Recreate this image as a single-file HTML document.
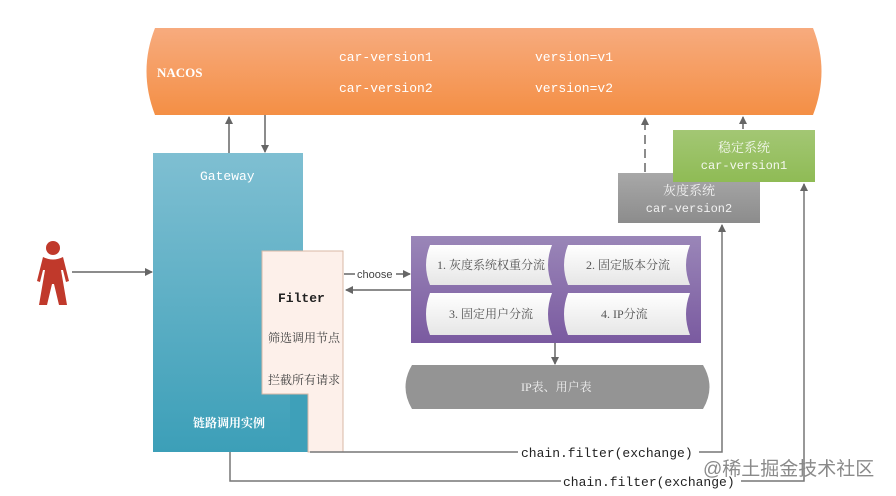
<!DOCTYPE html>
<html><head><meta charset="utf-8"><style>
html,body{margin:0;padding:0;background:#fff;}
svg{display:block;}
text{font-family:"Liberation Serif","Noto Serif CJK SC","Noto Sans CJK SC",serif;}
</style></head><body>
<svg width="896" height="496" viewBox="0 0 896 496" xmlns="http://www.w3.org/2000/svg">
<defs>
<linearGradient id="og" x1="0" y1="0" x2="0" y2="1"><stop offset="0" stop-color="#f7ab7e"/><stop offset="1" stop-color="#f48f45"/></linearGradient>
<linearGradient id="tg" x1="0" y1="0" x2="0" y2="1"><stop offset="0" stop-color="#7fbfd2"/><stop offset="1" stop-color="#3c9fb8"/></linearGradient>
<linearGradient id="pg" x1="0" y1="0" x2="0" y2="1"><stop offset="0" stop-color="#9a86b8"/><stop offset="1" stop-color="#7a5aa0"/></linearGradient>
<linearGradient id="cg" x1="0" y1="0" x2="0" y2="1"><stop offset="0" stop-color="#ffffff"/><stop offset="1" stop-color="#e6e6e6"/></linearGradient>
<linearGradient id="gg" x1="0" y1="0" x2="0" y2="1"><stop offset="0" stop-color="#a3c774"/><stop offset="1" stop-color="#8fbb55"/></linearGradient>
<linearGradient id="gr" x1="0" y1="0" x2="0" y2="1"><stop offset="0" stop-color="#a8a8a8"/><stop offset="1" stop-color="#8c8c8c"/></linearGradient>
<marker id="a" markerWidth="8" markerHeight="8" refX="7" refY="4" orient="auto" markerUnits="userSpaceOnUse"><path d="M0,0 L8,4 L0,8 z" fill="#666"/></marker>
</defs>

<path d="M155,28 L813,28 Q830,71 813,115 L155,115 Q138,71 155,28 z" fill="url(#og)"/>
<text x="157" y="77" font-size="13" font-weight="bold" fill="#fff">NACOS</text>
<g font-size="13" fill="#fff">
<text x="339" y="61" style="font-family:'Liberation Mono',monospace">car-version1</text>
<text x="535" y="61" style="font-family:'Liberation Mono',monospace">version=v1</text>
<text x="339" y="92" style="font-family:'Liberation Mono',monospace">car-version2</text>
<text x="535" y="92" style="font-family:'Liberation Mono',monospace">version=v2</text>
</g>

<line x1="229" y1="153" x2="229" y2="117" stroke="#666" stroke-width="1.5" marker-end="url(#a)"/>
<line x1="265" y1="115" x2="265" y2="152" stroke="#666" stroke-width="1.5" marker-end="url(#a)"/>

<rect x="153" y="153" width="150" height="299" fill="url(#tg)"/>
<rect x="290" y="390" width="18" height="62" fill="#3ea0b9"/>
<text x="200" y="180" font-size="13" fill="#fff" style="font-family:'Liberation Mono',monospace">Gateway</text>
<text x="193" y="427" font-size="12" fill="#fff" font-weight="bold">链路调用实例</text>

<path d="M262,251 L343,251 L343,452 L308,452 L308,394 L262,394 z" fill="#fdf0ea" stroke="#d9b9a6" stroke-width="1"/>
<text x="278" y="302" font-size="13" fill="#222" font-weight="bold" style="font-family:'Liberation Mono',monospace">Filter</text>
<text x="268" y="342" font-size="12" fill="#444">筛选调用节点</text>
<text x="268" y="384" font-size="12" fill="#444">拦截所有请求</text>

<g fill="#c0392b">
<circle cx="53" cy="248" r="7"/>
<path d="M43,257 Q53,262 63,257 L69,281 L66,282 L63,270 L61,270 L67,305 L59,305 L54,284 L52,284 L47,305 L39,305 L45,270 L43,270 L40,282 L37,281 z"/>
</g>
<line x1="72" y1="272" x2="152" y2="272" stroke="#666" stroke-width="1.5" marker-end="url(#a)"/>

<line x1="344" y1="274" x2="355" y2="274" stroke="#666" stroke-width="1.5"/>
<text x="357" y="278" font-size="11" fill="#444" style="font-family:'Liberation Sans',sans-serif">choose</text>
<line x1="396" y1="274" x2="410" y2="274" stroke="#666" stroke-width="1.5" marker-end="url(#a)"/>
<line x1="411" y1="290" x2="346" y2="290" stroke="#666" stroke-width="1.5" marker-end="url(#a)"/>

<rect x="411" y="236" width="290" height="107" fill="url(#pg)"/>
<g fill="url(#cg)">
<path d="M430,245 L552,245 Q544,265 552,285 L430,285 Q422,265 430,245 z"/>
<path d="M568,245 L690,245 Q682,265 690,285 L568,285 Q560,265 568,245 z"/>
<path d="M430,293 L552,293 Q544,314 552,335 L430,335 Q422,314 430,293 z"/>
<path d="M568,293 L690,293 Q682,314 690,335 L568,335 Q560,314 568,293 z"/>
</g>
<g font-size="12" fill="#555">
<text x="437" y="269">1. 灰度系统权重分流</text>
<text x="586" y="269">2. 固定版本分流</text>
<text x="449" y="318">3. 固定用户分流</text>
<text x="601" y="318">4. IP分流</text>
</g>
<line x1="555" y1="343" x2="555" y2="364" stroke="#666" stroke-width="1.5" marker-end="url(#a)"/>

<path d="M412,365 L703,365 Q716,387 703,409 L412,409 Q399,387 412,365 z" fill="#949494"/>
<text x="521" y="391" font-size="12" fill="#eee">IP表、用户表</text>

<rect x="618" y="173" width="142" height="50" fill="url(#gr)"/>
<text x="689" y="195" font-size="13" fill="#f2f2f2" text-anchor="middle">灰度系统</text>
<text x="689" y="212" font-size="12" fill="#f2f2f2" text-anchor="middle" style="font-family:'Liberation Mono',monospace">car-version2</text>
<rect x="673" y="130" width="142" height="52" fill="url(#gg)"/>
<text x="744" y="152" font-size="13" fill="#f4f8ee" text-anchor="middle">稳定系统</text>
<text x="744" y="169" font-size="12" fill="#f4f8ee" text-anchor="middle" style="font-family:'Liberation Mono',monospace">car-version1</text>
<line x1="645" y1="172" x2="645" y2="118" stroke="#666" stroke-width="1.5" stroke-dasharray="9,5" marker-end="url(#a)"/>
<line x1="743" y1="129" x2="743" y2="117" stroke="#666" stroke-width="1.5" marker-end="url(#a)"/>

<polyline points="310,452 518,452" fill="none" stroke="#777" stroke-width="1.5"/>
<text x="521" y="457" font-size="13" fill="#222" style="font-family:'Liberation Mono',monospace">chain.filter(exchange)</text>
<polyline points="699,452 722,452 722,225" fill="none" stroke="#777" stroke-width="1.5" marker-end="url(#a)"/>
<polyline points="230,452 230,481 561,481" fill="none" stroke="#777" stroke-width="1.5"/>
<text x="563" y="486" font-size="13" fill="#222" style="font-family:'Liberation Mono',monospace">chain.filter(exchange)</text>
<polyline points="741,481 804,481 804,184" fill="none" stroke="#777" stroke-width="1.5" marker-end="url(#a)"/>

<text x="703" y="475" font-size="19" fill="#8a8a8a" style="font-family:'Liberation Sans','Noto Sans CJK SC',sans-serif">@稀土掘金技术社区</text>
</svg>
</body></html>
